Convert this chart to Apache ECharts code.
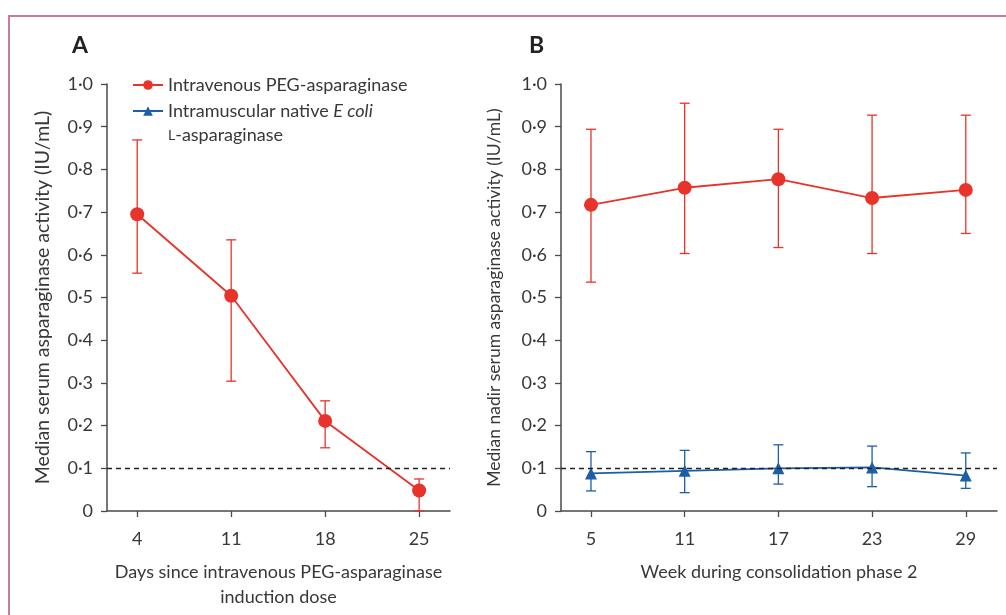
<!DOCTYPE html>
<html>
<head>
<meta charset="utf-8">
<script src="https://cdn.jsdelivr.net/npm/echarts@6/dist/echarts.min.js"></script>
<style>
  html, body { margin: 0; padding: 0; background: #fff; }
  #chart { width: 1006px; height: 615px; }
</style>
</head>
<body>
<div id="chart"></div>
<script>
var myChart = echarts.init(document.getElementById('chart'));

// panel A: induction
var daysA = [4, 11, 18, 25];
var pegA = [0.695, 0.504, 0.211, 0.048];
var pegLowA = [0.557, 0.304, 0.148, 0.0];
var pegHighA = [0.869, 0.635, 0.258, 0.075];

// panel B: consolidation phase 2
var weeksB = [5, 11, 17, 23, 29];
var pegB = [0.717, 0.757, 0.777, 0.733, 0.752];
var pegLowB = [0.536, 0.603, 0.617, 0.603, 0.650];
var pegHighB = [0.894, 0.955, 0.894, 0.927, 0.927];
var ecoliB = [0.088, 0.094, 0.100, 0.102, 0.083];
var ecoliLowB = [0.047, 0.043, 0.063, 0.057, 0.053];
var ecoliHighB = [0.139, 0.142, 0.155, 0.152, 0.136];

var threshold = 0.1;

var RED = '#e8332a';
var BLUE = '#1d5ea8';
var TXT = '#383838';
var AX = '#4a4a4a';
var FONT = 'Lato';

function pairs(xs, ys) {
    return xs.map(function (x, i) { return [x, ys[i]]; });
}
function bars(xs, lo, hi) {
    return xs.map(function (x, i) { return [x, lo[i], hi[i]]; });
}

// error bars drawn as custom series
function errorBar(color) {
    return function (params, api) {
        var x = api.value(0);
        var lo = api.coord([x, api.value(1)]);
        var hi = api.coord([x, api.value(2)]);
        var w = 5;
        var style = {stroke: color, lineWidth: 1.3};
        return {
            type: 'group',
            children: [
                {type: 'line', shape: {x1: lo[0], y1: lo[1], x2: hi[0], y2: hi[1]}, style: style},
                {type: 'line', shape: {x1: hi[0] - w, y1: hi[1], x2: hi[0] + w, y2: hi[1]}, style: style},
                {type: 'line', shape: {x1: lo[0] - w, y1: lo[1], x2: lo[0] + w, y2: lo[1]}, style: style}
            ]
        };
    };
}

function yLabel(v) {
    return v === 0 ? '0' : v.toFixed(1).replace('.', '\u00b7');
}

function yAxis(idx, name, size, gap) {
    return {
        type: 'value', gridIndex: idx, min: 0, max: 1, interval: 0.1,
        name: name, nameLocation: 'middle', nameGap: gap,
        nameTextStyle: {color: TXT, fontSize: size, fontFamily: FONT},
        axisLine: {show: true, lineStyle: {color: AX, width: 1.5}},
        axisTick: {show: true, length: 6, lineStyle: {color: AX, width: 1.3}},
        axisLabel: {formatter: yLabel, color: TXT, fontSize: 18, fontFamily: FONT, margin: 14},
        splitLine: {show: false}
    };
}

function xAxis(idx, min, max, ticks, name) {
    return {
        type: 'value', gridIndex: idx, min: min, max: max,
        name: name, nameLocation: 'middle', nameGap: 49,
        nameTextStyle: {color: TXT, fontSize: 18, fontFamily: FONT, lineHeight: 25},
        axisLine: {show: true, onZero: false, lineStyle: {color: AX, width: 1.5}},
        axisTick: {show: true, length: 6, customValues: ticks, lineStyle: {color: AX, width: 1.3}},
        axisLabel: {customValues: ticks, color: TXT, fontSize: 18, fontFamily: FONT, margin: 19},
        splitLine: {show: false}
    };
}

var dashed = {
    silent: true, symbol: 'none', label: {show: false},
    lineStyle: {type: [5, 4], color: '#222', width: 1.3},
    data: [{yAxis: threshold}]
};

option = {
    backgroundColor: '#fff',
    animation: false,
    textStyle: {fontFamily: FONT},
    grid: [
        {left: 107, top: 84, right: 556, bottom: 104},
        {left: 561, top: 84, right: 9, bottom: 104}
    ],
    xAxis: [
        xAxis(0, 1.75, 27.3, daysA, 'Days since intravenous PEG-asparaginase\ninduction dose'),
        xAxis(1, 3.08, 31, weeksB, 'Week during consolidation phase 2')
    ],
    yAxis: [
        yAxis(0, 'Median serum asparaginase activity (IU/mL)', 19.5, 54),
        yAxis(1, 'Median nadir serum asparaginase activity (IU/mL)', 17.5, 58)
    ],
    legend: {
        data: ['Intravenous PEG-asparaginase', 'Intramuscular native E coli'],
        orient: 'vertical', left: 127, top: 71, itemGap: 8,
        itemWidth: 30, itemHeight: 12,
        textStyle: {
            color: TXT, fontSize: 18, fontFamily: FONT,
            rich: {
                n: {color: TXT, fontSize: 18, fontFamily: FONT},
                i: {color: TXT, fontSize: 18, fontFamily: FONT, fontStyle: 'italic'}
            }
        },
        formatter: function (name) {
            if (name === 'Intramuscular native E coli') {
                return '{n|Intramuscular native }{i|E coli}';
            }
            return '{n|' + name + '}';
        }
    },
    graphic: [
        {type: 'rect', shape: {x: 9, y: 16, width: 1100, height: 700},
            style: {fill: 'none', stroke: '#c97b9c', lineWidth: 2}},
        {type: 'text', left: 72, top: 34,
            style: {text: 'A', fill: '#222', font: 'bold 23px Lato'}},
        {type: 'text', left: 529, top: 34,
            style: {text: 'B', fill: '#222', font: 'bold 23px Lato'}},
        {type: 'text', left: 168, top: 126,
            style: {
                text: '{s|L}{n|-asparaginase}',
                rich: {
                    s: {fontSize: 14, fill: TXT, fontFamily: FONT},
                    n: {fontSize: 18, fill: TXT, fontFamily: FONT}
                }
            }}
    ],
    series: [
        {
            name: 'Intravenous PEG-asparaginase', type: 'line',
            xAxisIndex: 0, yAxisIndex: 0,
            data: pairs(daysA, pegA),
            symbol: 'circle', symbolSize: 14,
            itemStyle: {color: RED},
            lineStyle: {color: RED, width: 1.8},
            z: 3,
            markLine: dashed
        },
        {
            type: 'custom', xAxisIndex: 0, yAxisIndex: 0,
            data: bars(daysA, pegLowA, pegHighA),
            renderItem: errorBar(RED), silent: true, z: 2
        },
        {
            name: 'Intravenous PEG-asparaginase', type: 'line',
            xAxisIndex: 1, yAxisIndex: 1,
            data: pairs(weeksB, pegB),
            symbol: 'circle', symbolSize: 14,
            itemStyle: {color: RED},
            lineStyle: {color: RED, width: 1.8},
            z: 3
        },
        {
            type: 'custom', xAxisIndex: 1, yAxisIndex: 1,
            data: bars(weeksB, pegLowB, pegHighB),
            renderItem: errorBar(RED), silent: true, z: 2
        },
        {
            name: 'Intramuscular native E coli', type: 'line',
            xAxisIndex: 1, yAxisIndex: 1,
            data: pairs(weeksB, ecoliB),
            symbol: 'triangle', symbolSize: 12,
            itemStyle: {color: BLUE},
            lineStyle: {color: BLUE, width: 1.8},
            z: 3,
            markLine: dashed
        },
        {
            type: 'custom', xAxisIndex: 1, yAxisIndex: 1,
            data: bars(weeksB, ecoliLowB, ecoliHighB),
            renderItem: errorBar(BLUE), silent: true, z: 2
        }
    ]
};
myChart.setOption(option);
</script>
</body>
</html>
